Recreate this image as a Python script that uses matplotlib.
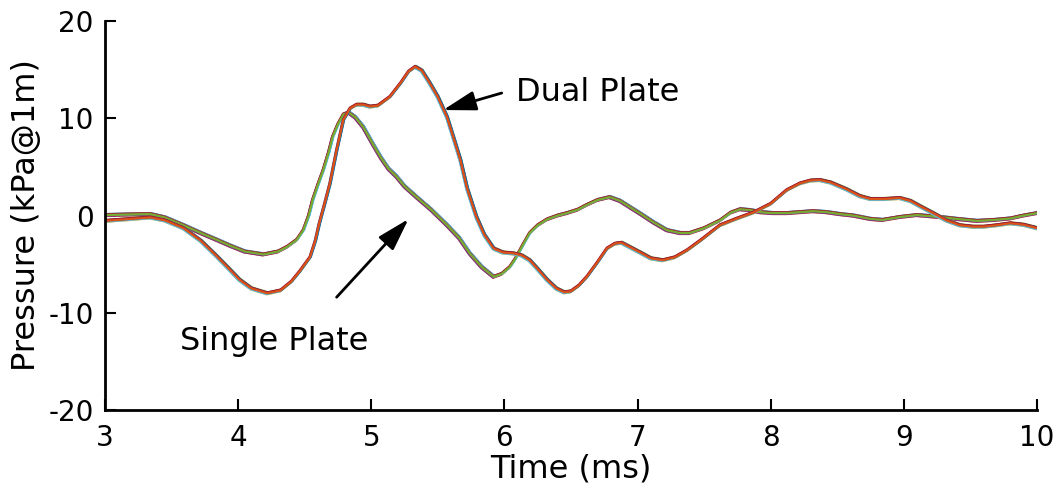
import numpy as np
import matplotlib.pyplot as plt
plt.switch_backend('agg')
plt.rcParams['axes.unicode_minus'] = False

# values (time in ms, pressure in kPa@1m)
t_single = [3.00, 3.15, 3.34, 3.45, 3.59, 3.72, 3.84, 3.94, 4.05, 4.19, 4.30, 4.37,
            4.44, 4.49, 4.53, 4.56, 4.60, 4.64, 4.68, 4.71, 4.75, 4.79, 4.83, 4.88,
            4.94, 5.01, 5.07, 5.13, 5.19, 5.25, 5.34, 5.45, 5.57, 5.66, 5.74, 5.83,
            5.92, 5.98, 6.04, 6.08, 6.14, 6.19, 6.25, 6.32, 6.40, 6.47, 6.55, 6.62,
            6.70, 6.79, 6.87, 6.95, 7.02, 7.12, 7.22, 7.32, 7.39, 7.50, 7.62, 7.70,
            7.77, 7.85, 7.92, 8.02, 8.12, 8.22, 8.32, 8.42, 8.52, 8.62, 8.75, 8.84,
            8.97, 9.10, 9.27, 9.40, 9.55, 9.68, 9.80, 9.90, 10.0]
p_single = [0.05, 0.1, 0.15, -0.2, -1.0, -1.8, -2.5, -3.1, -3.7, -4.0, -3.7, -3.2,
            -2.5, -1.5, 0.0, 1.6, 3.2, 4.7, 6.5, 8.1, 9.4, 10.4, 10.6, 10.1,
            9.1, 7.4, 6.0, 4.8, 4.0, 3.0, 1.9, 0.6, -1.0, -2.3, -3.9, -5.3,
            -6.3, -6.0, -5.3, -4.5, -3.0, -1.8, -1.0, -0.4, 0.0, 0.25, 0.6, 1.1,
            1.6, 1.9, 1.5, 0.8, 0.2, -0.7, -1.5, -1.8, -1.8, -1.3, -0.5, 0.3,
            0.65, 0.55, 0.35, 0.25, 0.25, 0.35, 0.45, 0.35, 0.15, 0.0, -0.35, -0.45,
            -0.15, 0.05, -0.15, -0.35, -0.55, -0.45, -0.3, 0.0, 0.25]

t_dual = [3.00, 3.15, 3.34, 3.45, 3.59, 3.72, 3.84, 3.94, 4.01, 4.10, 4.22, 4.32,
          4.40, 4.46, 4.54, 4.58, 4.61, 4.65, 4.69, 4.74, 4.79, 4.84, 4.89, 4.94,
          4.99, 5.05, 5.14, 5.22, 5.28, 5.33, 5.38, 5.44, 5.50, 5.57, 5.62, 5.67,
          5.72, 5.79, 5.85, 5.92, 5.99, 6.07, 6.13, 6.19, 6.25, 6.32, 6.39, 6.45,
          6.50, 6.56, 6.62, 6.70, 6.77, 6.83, 6.88, 6.95, 7.02, 7.10, 7.19, 7.28,
          7.37, 7.48, 7.62, 7.75, 7.87, 8.00, 8.12, 8.22, 8.30, 8.37, 8.45, 8.57,
          8.67, 8.75, 8.85, 8.97, 9.05, 9.13, 9.22, 9.32, 9.42, 9.52, 9.60, 9.70,
          9.80, 9.90, 10.0]
p_dual = [-0.55, -0.4, -0.2, -0.5, -1.3, -2.6, -4.2, -5.6, -6.6, -7.5, -8.0, -7.7,
          -6.8, -5.8, -4.3, -2.6, -0.8, 1.2, 3.3, 6.7, 9.8, 11.0, 11.4, 11.4,
          11.2, 11.3, 12.2, 13.6, 14.8, 15.3, 14.9, 13.6, 12.2, 10.1, 7.9, 5.7,
          2.8, -0.15, -2.0, -3.4, -3.8, -3.9, -4.1, -4.6, -5.5, -6.6, -7.5, -7.9,
          -7.8, -7.2, -6.3, -4.8, -3.4, -2.9, -2.8, -3.3, -3.8, -4.4, -4.6, -4.3,
          -3.6, -2.5, -1.0, -0.3, 0.3, 1.2, 2.6, 3.3, 3.6, 3.65, 3.4, 2.7,
          2.0, 1.7, 1.7, 1.8, 1.5, 0.9, 0.25, -0.5, -1.0, -1.15, -1.15, -1.0,
          -0.8, -0.95, -1.3]

# small spread between repeated shots
shot_dp = [0.1, -0.1, 0.06, -0.08, 0.03, 0.08, 0.0]
shot_dt = [0.005, -0.004, 0.003, -0.006, 0.006, -0.002, 0.0]

single_colors = ['#0072BD', '#D95319', '#EDB120', '#7E2F8E', '#4DBEEE', '#A2142F', '#77AC30']
dual_colors = ['#77AC30', '#EDB120', '#7E2F8E', '#4DBEEE', '#0072BD', '#A2142F', '#D95319']

fig = plt.figure(figsize=(10.57, 4.9), dpi=100)
ax = fig.add_axes([0.0993, 0.1633, 0.8817, 0.7937])

for i in range(len(shot_dp)):
    ax.plot(np.array(t_single) + shot_dt[i], np.array(p_single) + shot_dp[i],
            color=single_colors[i], lw=1.6, solid_joinstyle='round')
for i in range(len(shot_dp)):
    ax.plot(np.array(t_dual) + shot_dt[i], np.array(p_dual) + shot_dp[i],
            color=dual_colors[i], lw=1.6, solid_joinstyle='round')

ax.set_xlim(3, 10)
ax.set_ylim(-20, 20)
ax.set_xticks(range(3, 11))
ax.set_yticks([-20, -10, 0, 10, 20])
ax.spines['top'].set_visible(False)
ax.spines['right'].set_visible(False)
ax.spines['left'].set_linewidth(2)
ax.spines['bottom'].set_linewidth(2)
ax.tick_params(direction='in', length=8, width=1.5, labelsize=20)
ax.tick_params(axis='x', pad=10)
ax.tick_params(axis='y', pad=8)
ax.set_xlabel('Time (ms)', fontsize=23, labelpad=1)
ax.set_ylabel('Pressure (kPa@1m)', fontsize=23, labelpad=5)

arrow = dict(arrowstyle='-|>,head_length=1.0,head_width=0.3', mutation_scale=20,
             lw=2, color='k', shrinkA=0, shrinkB=0)
ax.annotate('', xy=(5.54, 10.85), xytext=(5.98, 12.6), arrowprops=arrow)
ax.annotate('', xy=(5.28, -0.36), xytext=(4.74, -8.4), arrowprops=arrow)
ax.text(6.09, 12.7, 'Dual Plate', fontsize=23, va='center', ha='left')
ax.text(3.56, -13.0, 'Single Plate', fontsize=23, va='center', ha='left')

plt.savefig('out.png', dpi=100)
plt.close()
